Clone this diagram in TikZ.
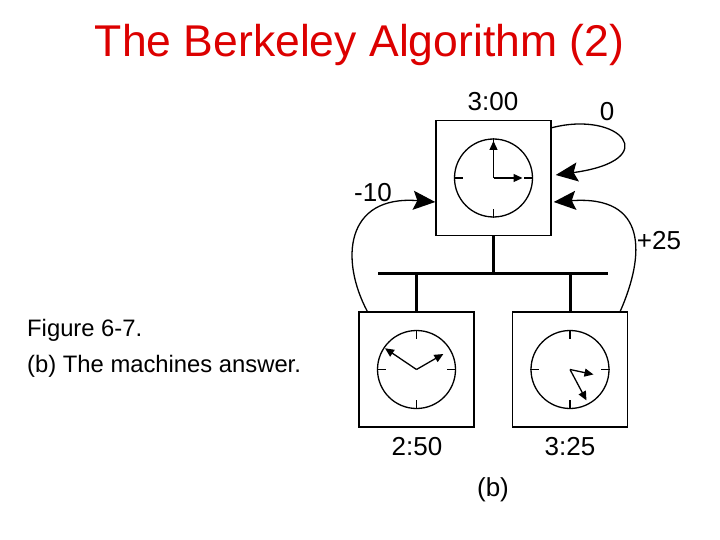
\documentclass[tikz,border=0pt]{standalone}
\usepackage{fontspec}
\setmainfont{Liberation Sans}
\usetikzlibrary{positioning, arrows.meta}
\definecolor{titlered}{RGB}{220,0,0}

\begin{document}
\begin{tikzpicture}[x=1pt, y=-1pt,
    box/.style={draw, line width=1.5pt, minimum size=115pt, inner sep=0pt},
    dial/.style={draw, circle, line width=1.3pt, minimum size=78pt, inner sep=0pt},
    hand/.style={line width=1.3pt, -{Triangle[length=9pt,width=8pt]}},
    tick/.style={line width=1.3pt},
    bus/.style={line width=3pt},
    reply/.style={line width=1.3pt, -{Stealth[length=22pt,width=19pt,inset=4pt]}},
    lbl/.style={font=\fontsize{26}{29}\selectfont, inner sep=0pt},
    txt/.style={font=\fontsize{23.8}{27}\selectfont, anchor=west, inner sep=0pt}]
  \useasboundingbox (0,0) rectangle (720,540);

  \node[text=titlered, font=\fontsize{44.5}{50}\selectfont, inner sep=0pt] (title) at (359.5,45) {The Berkeley Algorithm (2)};
  \node[txt] (fig) at (27,330) {Figure 6-7.};
  \node[txt] (cap) at (27,366) {(b) The machines answer.};

  \node[box] (srv) at (493.5,178) {};
  \node[box] (cl) at (416.5,369.5) {};
  \node[box] (cr) at (570,369.5) {};
  \node[dial] (srvdial) at (srv) {};
  \node[dial] (cldial) at (cl) {};
  \node[dial] (crdial) at (cr) {};

  \foreach \d in {srvdial, cldial, crdial}
    \foreach \a in {0, 90, 180, 270}
      \draw[tick] (\d.\a) -- ++(\a+180:9pt);

  \draw[hand] (srvdial.center) -- ++(90:37pt);
  \draw[hand] (srvdial.center) -- ++(0:29pt);
  \draw[hand] (cldial.center) -- ++(146:38pt);
  \draw[hand] (cldial.center) -- ++(30:31pt);
  \draw[hand] (crdial.center) -- ++(-12:24pt);
  \draw[hand] (crdial.center) -- ++(-62:35pt);

  \coordinate (busl) at (378,273);
  \coordinate (busr) at (608,273);
  \draw[bus] (busl) -- (busr);
  \draw[bus] (srv.south) -- (srv.south |- busl);
  \draw[bus] (cl.north) -- (cl.north |- busl);
  \draw[bus] (cr.north) -- (cr.north |- busl);

  \draw[reply] ([yshift=-8pt]srv.north east) .. controls (620,110) and (665,160) .. ([xshift=4pt,yshift=3pt]srv.east);
  \draw[reply] ([xshift=9pt]cl.north west) .. controls (340,260) and (345,195) .. ([yshift=-24pt]srv.west);
  \draw[reply] ([xshift=-8pt]cr.north east) .. controls (645,255) and (648,195) .. ([xshift=2pt,yshift=-24pt]srv.east);

  \node[lbl] (tsrv) at (493,102) {3:00};
  \node[lbl] (dsrv) at (607,112) {0};
  \node[lbl] (dcl) at (373,193) {-10};
  \node[lbl] (dcr) at (659,241) {+25};
  \node[lbl] (tcl) at (417,447) {2:50};
  \node[lbl] (tcr) at (570,447) {3:25};
  \node[lbl] (sub) at (493,490) {(b)};
\end{tikzpicture}
\end{document}
